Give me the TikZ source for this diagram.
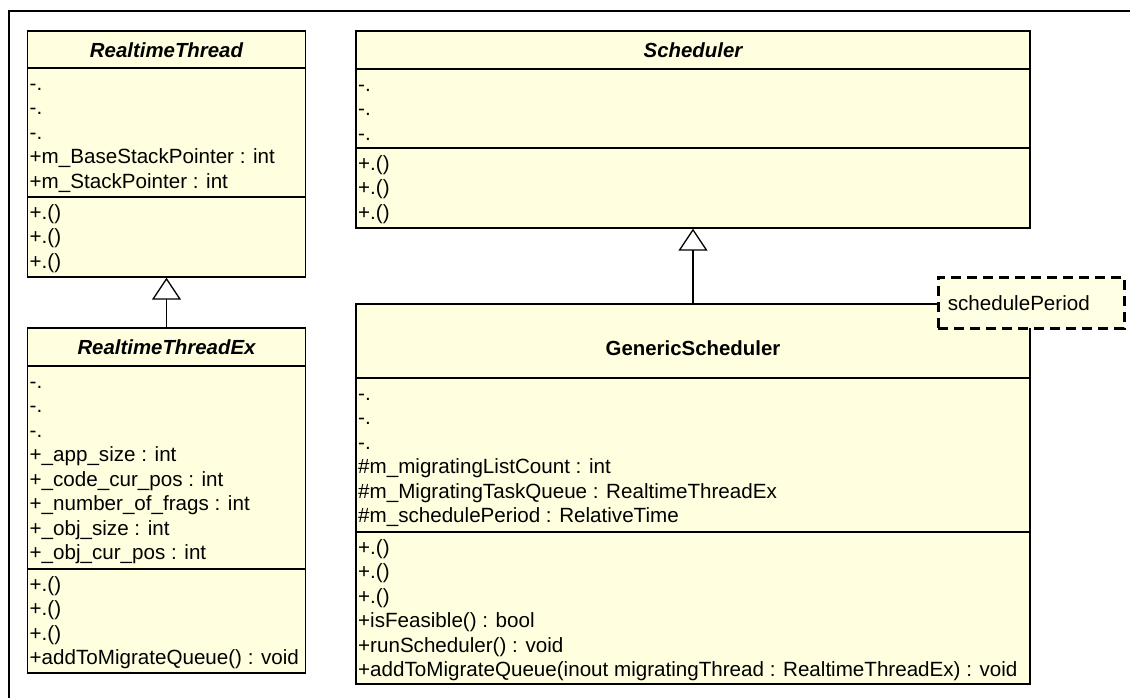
\documentclass[tikz,border=0pt]{standalone}
\usepackage{fontspec}
\setmainfont{Liberation Sans}
\usetikzlibrary{arrows.meta,fit}
\definecolor{classfill}{RGB}{255,255,224}
\definecolor{notefill}{RGB}{255,255,228}
\begin{document}
\begin{tikzpicture}[x=1pt,y=-1pt,
  classbox/.style={draw=black,line width=1.3pt,fill=classfill,inner sep=0pt},
  sepline/.style={draw=black,line width=1.3pt},
  member/.style={anchor=base west,inner sep=0pt,font=\fontsize{20.6}{24}\selectfont},
  abstitle/.style={anchor=base,inner sep=0pt,font=\fontsize{20.4}{24}\selectfont\bfseries\itshape},
  clstitle/.style={anchor=base,inner sep=0pt,font=\fontsize{20.4}{24}\selectfont\bfseries},
  inherit/.style={draw=black,line width=1.3pt,-{Triangle[open,length=22pt,width=29pt]}},
  notebox/.style={draw=black,line width=2.6pt,dash pattern=on 10pt off 6pt,fill=notefill,
    anchor=north west,inner xsep=9.5pt,inner ysep=0pt,text width=167pt,minimum height=51pt,
    align=left,font=\fontsize{20.6}{24}\selectfont},
  frameline/.style={draw=black,line width=2pt}
]
\useasboundingbox (0,0) rectangle (1130,697);
\fill[white] (0,0) rectangle (1130,697);

% diagram frame
\draw[frameline] (9,700) -- (9,11) -- (1133,11);

% ---------------- RealtimeThread ----------------
\node[classbox,fit={(27.5,31) (305.5,277)}] (rt) {};
\draw[sepline] (27.5,68) -- (305.5,68);
\draw[sepline] (27.5,197) -- (305.5,197);
\node[abstitle] (rt-t) at (166.5,57) {RealtimeThread};
\node[member] (rt-a1) at (29.5,90) {-.};
\node[member] (rt-a2) at (29.5,114.5) {-.};
\node[member] (rt-a3) at (29.5,139) {-.};
\node[member] (rt-a4) at (29.5,163.5) {+m\_BaseStackPointer : int};
\node[member] (rt-a5) at (29.5,188) {+m\_StackPointer : int};
\node[member] (rt-m1) at (29.5,219) {+.()};
\node[member] (rt-m2) at (29.5,243.5) {+.()};
\node[member] (rt-m3) at (29.5,268) {+.()};

% ---------------- RealtimeThreadEx ----------------
\node[classbox,fit={(27.5,328) (305.5,673)}] (rtx) {};
\draw[sepline] (27.5,366) -- (305.5,366);
\draw[sepline] (27.5,569) -- (305.5,569);
\node[abstitle] (rtx-t) at (166.5,354) {RealtimeThreadEx};
\node[member] (rtx-a1) at (29.5,388) {-.};
\node[member] (rtx-a2) at (29.5,412.5) {-.};
\node[member] (rtx-a3) at (29.5,437) {-.};
\node[member] (rtx-a4) at (29.5,461.5) {+\_app\_size : int};
\node[member] (rtx-a5) at (29.5,486) {+\_code\_cur\_pos : int};
\node[member] (rtx-a6) at (29.5,510.5) {+\_number\_of\_frags : int};
\node[member] (rtx-a7) at (29.5,535) {+\_obj\_size : int};
\node[member] (rtx-a8) at (29.5,559.5) {+\_obj\_cur\_pos : int};
\node[member] (rtx-m1) at (29.5,591) {+.()};
\node[member] (rtx-m2) at (29.5,615.5) {+.()};
\node[member] (rtx-m3) at (29.5,640) {+.()};
\node[member] (rtx-m4) at (29.5,664.5) {+addToMigrateQueue() : void};

% ---------------- Scheduler ----------------
\node[classbox,fit={(356,31) (1030,228)}] (sch) {};
\draw[sepline] (356,69) -- (1030,69);
\draw[sepline] (356,148) -- (1030,148);
\node[abstitle] (sch-t) at (693,57) {Scheduler};
\node[member] (sch-a1) at (358,91) {-.};
\node[member] (sch-a2) at (358,115.5) {-.};
\node[member] (sch-a3) at (358,140) {-.};
\node[member] (sch-m1) at (358,170) {+.()};
\node[member] (sch-m2) at (358,194.5) {+.()};
\node[member] (sch-m3) at (358,219) {+.()};

% ---------------- GenericScheduler ----------------
\node[classbox,fit={(356,304) (1030,684)}] (gs) {};
\draw[sepline] (356,378) -- (1030,378);
\draw[sepline] (356,532) -- (1030,532);
\node[clstitle] (gs-t) at (693,355) {GenericScheduler};
\node[member] (gs-a1) at (358,400) {-.};
\node[member] (gs-a2) at (358,424.5) {-.};
\node[member] (gs-a3) at (358,449) {-.};
\node[member] (gs-a4) at (358,473.5) {\#m\_migratingListCount : int};
\node[member] (gs-a5) at (358,498) {\#m\_MigratingTaskQueue : RealtimeThreadEx};
\node[member] (gs-a6) at (358,522.5) {\#m\_schedulePeriod : RelativeTime};
\node[member] (gs-m1) at (358,554) {+.()};
\node[member] (gs-m2) at (358,578.5) {+.()};
\node[member] (gs-m3) at (358,603) {+.()};
\node[member] (gs-m4) at (358,627.5) {+isFeasible() : bool};
\node[member] (gs-m5) at (358,652) {+runScheduler() : void};
\node[member] (gs-m6) at (358,676.5) {+addToMigrateQueue(inout migratingThread : RealtimeThreadEx) : void};

% note on the scheduling period
\node[notebox] (note) at (937,276) {schedulePeriod};

% generalisations
\draw[inherit] (rtx.north) -- (rt.south);
\draw[inherit] (gs.north) -- (sch.south);
\end{tikzpicture}
\end{document}
